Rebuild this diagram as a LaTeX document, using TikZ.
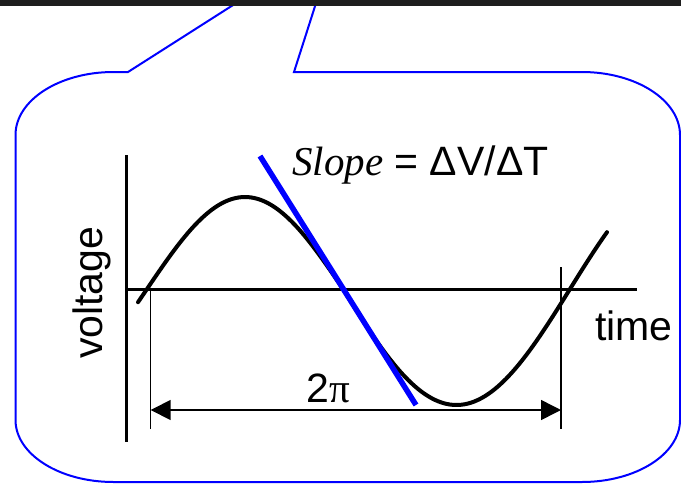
\documentclass[tikz,border=0pt]{standalone}
\usepackage{fontspec}
\setmainfont{Liberation Sans}
\newfontfamily\timesfont{Liberation Serif}
\usetikzlibrary{arrows.meta}
\definecolor{barcol}{HTML}{1E1E1E}
\tikzset{
  calloutline/.style={draw=blue, line width=2pt, line join=miter},
  axisline/.style={draw=black, line width=3pt},
  dimline/.style={draw=black, line width=1.5pt},
  wave/.style={draw=black, line width=4pt, line join=round, line cap=round},
  tangent/.style={draw=blue, line width=5.5pt},
  lbl/.style={inner sep=0pt, font=\fontsize{41}{49}\selectfont},
  dimarrow/.style={dimline, {Triangle[length=20pt,width=20pt]}-{Triangle[length=20pt,width=20pt]}}
}
\begin{document}
\begin{tikzpicture}[x=1pt,y=-1pt]
\useasboundingbox (0,0) rectangle (681,483);
% callout
\draw[calloutline] (317,0) -- (294,72) -- (582,72)
  .. controls (636,72) and (680,100.2) .. (680,135)
  -- (680,420) .. controls (680,454.2) and (636,482) .. (582,482)
  -- (113.5,482) .. controls (59.4,482) and (15.5,454.2) .. (15.5,420)
  -- (15.5,135) .. controls (15.5,100.2) and (59.4,72) .. (113.5,72)
  -- (128,72) -- (241,0);
\fill[barcol] (0,0) rectangle (681,6);
% coordinates
\coordinate (vtop) at (126.5,155);
\coordinate (vbot) at (126.5,442);
\coordinate (hleft) at (126,289);
\coordinate (hright) at (637,289);
\coordinate (d1top) at (150.7,289);
\coordinate (d1bot) at (150.7,429);
\coordinate (d2top) at (561,267);
\coordinate (d2bot) at (561,429);
\coordinate (a1) at (150.7,410);
\coordinate (a2) at (561,410);
\coordinate (t1) at (260,156);
\coordinate (t2) at (416,405);
% axes
\draw[axisline] (vtop) -- (vbot);
\draw[axisline] (hleft) -- (hright);
% dimension lines
\draw[dimline] (d1top) -- (d1bot);
\draw[dimline] (d2top) -- (d2bot);
\draw[dimarrow] (a1) -- (a2);
% wave
\draw[wave] plot[domain=138:343, samples=70] (\x,{289-92*sin((\x-147)/196*180)})
  -- plot[domain=343:607, samples=90] (\x,{289+116*sin((\x-343)/227*180)});
% tangent
\draw[tangent] (t1) -- (t2);
% labels
\node[lbl, anchor=base west] (slope) at (292,175) {{\timesfont\itshape Slope} = ΔV/ΔT};
\node[lbl, anchor=base west] (time) at (595,340) {time};
\node[lbl, anchor=base west, rotate=90] (volt) at (102,359) {voltage};
\node[lbl, anchor=base west] (twopi) at (306,402) {2{\timesfont π}};
\end{tikzpicture}
\end{document}
